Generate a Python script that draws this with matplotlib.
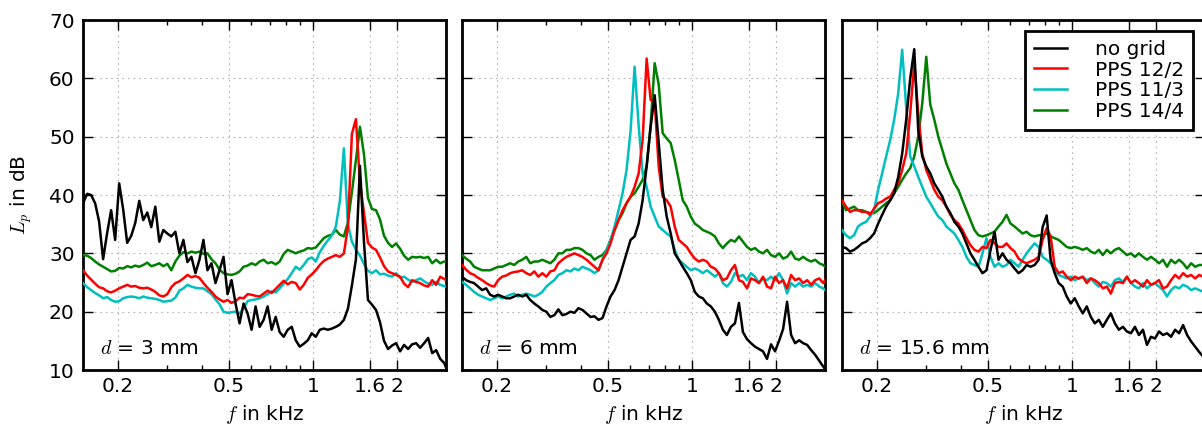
import matplotlib
matplotlib.use('Agg')
import matplotlib.pyplot as plt
from matplotlib.ticker import FixedLocator, FixedFormatter, NullFormatter

# frequency bins (kHz), shared by all spectra
freq_khz = [0.1500, 0.1551, 0.1603, 0.1657, 0.1712, 0.1770, 0.1830, 0.1891, 0.1955, 0.2021,
            0.2089, 0.2159, 0.2232, 0.2307, 0.2385, 0.2465, 0.2548, 0.2634, 0.2723, 0.2814,
            0.2909, 0.3007, 0.3108, 0.3213, 0.3321, 0.3433, 0.3549, 0.3668, 0.3792, 0.3919,
            0.4051, 0.4188, 0.4329, 0.4474, 0.4625, 0.4781, 0.4942, 0.5108, 0.5280, 0.5458,
            0.5641, 0.5831, 0.6027, 0.6230, 0.6440, 0.6657, 0.6881, 0.7113, 0.7352, 0.7600,
            0.7856, 0.8120, 0.8394, 0.8676, 0.8968, 0.9270, 0.9583, 0.9905, 1.0239, 1.0584,
            1.0940, 1.1308, 1.1689, 1.2083, 1.2490, 1.2910, 1.3345, 1.3794, 1.4259, 1.4739,
            1.5235, 1.5748, 1.6278, 1.6826, 1.7393, 1.7979, 1.8584, 1.9210, 1.9857, 2.0526,
            2.1217, 2.1931, 2.2670, 2.3433, 2.4222, 2.5038, 2.5881, 2.6753, 2.7654, 2.8585,
            2.9548, 3.0000]

# d = 3 mm
lp_3mm_nogrid = [38.6, 40.2, 40.0, 38.6, 35.5, 29.0, 33.5, 37.4, 32.3, 42.0,
                 37.5, 31.8, 33.0, 35.2, 39.0, 35.7, 37.0, 34.5, 38.0, 32.0,
                 34.0, 33.4, 32.9, 33.7, 30.0, 32.3, 28.5, 29.4, 26.6, 28.9,
                 32.3, 27.1, 28.3, 24.9, 27.1, 29.4, 23.0, 25.4, 21.4, 18.0,
                 21.4, 19.7, 16.9, 20.9, 17.4, 18.6, 20.9, 16.9, 19.1, 16.5,
                 15.7, 16.9, 17.4, 15.1, 14.0, 14.5, 15.1, 16.3, 15.7, 16.9,
                 17.1, 16.9, 17.1, 17.4, 17.8, 18.6, 20.5, 24.5, 29.0, 45.0,
                 32.0, 22.0, 21.2, 20.3, 18.2, 15.0, 13.6, 14.2, 14.6, 13.2,
                 14.3, 13.6, 14.4, 14.6, 13.8, 14.6, 15.5, 12.9, 13.4, 11.9,
                 11.2, 10.4]
lp_3mm_pps12 = [27.1, 26.2, 25.5, 24.8, 24.2, 24.0, 23.5, 23.3, 23.6, 24.0,
                24.3, 24.6, 24.3, 24.4, 24.1, 24.0, 24.1, 23.8, 23.4, 22.8,
                22.6, 23.0, 24.2, 24.9, 25.2, 25.7, 26.3, 25.9, 26.1, 25.8,
                24.9, 24.1, 23.4, 22.6, 22.1, 21.7, 22.0, 21.5, 21.8, 22.4,
                22.3, 23.0, 22.9, 22.7, 22.6, 23.1, 23.6, 23.2, 23.9, 24.6,
                25.3, 24.7, 25.1, 24.9, 23.8, 24.6, 25.8, 26.4, 27.1, 28.0,
                28.7, 29.1, 29.4, 29.7, 29.4, 30.0, 34.5, 50.5, 53.0, 42.2,
                37.0, 31.8, 31.0, 30.6, 29.3, 27.8, 26.9, 26.6, 26.3, 26.0,
                24.8, 24.2, 25.4, 25.1, 24.9, 24.5, 24.3, 25.4, 24.6, 26.0,
                25.6, 25.4]
lp_3mm_pps11 = [24.9, 24.2, 23.7, 23.2, 22.8, 22.3, 22.5, 22.0, 21.7, 21.8,
                22.3, 22.5, 22.6, 22.5, 22.3, 22.6, 22.4, 22.3, 22.2, 22.0,
                21.7, 21.8, 21.9, 22.4, 23.6, 24.0, 24.6, 24.3, 24.1, 24.0,
                24.0, 23.5, 23.0, 22.1, 21.3, 20.0, 19.8, 19.9, 20.0, 19.7,
                20.6, 21.8, 22.0, 22.1, 22.3, 22.6, 23.0, 23.5, 23.3, 24.0,
                24.8, 25.6, 26.6, 27.7, 27.2, 28.0, 29.0, 29.3, 28.6, 30.2,
                31.3, 32.2, 33.1, 34.6, 39.0, 48.0, 35.0, 32.0, 30.6, 29.6,
                28.2, 27.0, 26.6, 27.1, 26.4, 26.5, 26.2, 26.0, 26.6, 25.8,
                26.0, 25.5, 25.1, 25.4, 25.7, 25.2, 24.8, 24.6, 25.1, 24.6,
                24.4, 24.3]
lp_3mm_pps14 = [29.7, 29.6, 29.2, 28.6, 28.1, 27.7, 27.3, 26.9, 27.0, 27.5,
                27.4, 27.8, 27.6, 27.9, 27.7, 28.0, 28.4, 27.8, 28.0, 28.3,
                27.8, 28.2, 27.1, 28.6, 29.6, 30.2, 30.0, 30.3, 30.1, 30.3,
                29.9, 30.0, 29.0, 28.3, 27.2, 26.6, 26.4, 26.3, 26.5, 26.9,
                27.7, 27.9, 28.3, 28.0, 28.6, 28.9, 28.3, 28.5, 28.1, 28.6,
                29.9, 30.6, 30.3, 30.0, 30.3, 30.5, 30.9, 30.8, 31.0, 31.8,
                32.6, 33.0, 33.2, 34.0, 33.2, 32.9, 35.3, 40.5, 46.0, 51.7,
                47.0, 39.5, 37.6, 37.4, 35.8, 33.0, 31.8, 31.1, 31.7, 30.8,
                29.6, 28.9, 29.4, 29.3, 29.4, 29.2, 29.4, 28.3, 28.9, 28.3,
                28.6, 28.6]

# d = 6 mm
lp_6mm_nogrid = [26.0, 25.4, 25.1, 24.9, 24.3, 23.7, 24.0, 22.9, 22.6, 22.9,
                 22.6, 22.3, 22.3, 22.6, 22.9, 22.6, 22.9, 22.0, 21.4, 20.9,
                 20.3, 20.0, 19.1, 19.4, 20.4, 19.4, 19.6, 20.0, 19.8, 20.6,
                 20.3, 19.7, 19.1, 19.2, 18.6, 18.9, 20.9, 22.6, 23.7, 25.4,
                 27.7, 30.0, 32.3, 32.9, 35.1, 39.1, 44.9, 51.7, 57.1, 49.0,
                 40.9, 36.3, 33.4, 30.0, 28.9, 27.7, 26.6, 25.4, 23.4, 22.6,
                 22.3, 21.4, 20.9, 20.0, 18.6, 16.9, 16.0, 17.4, 18.0, 21.5,
                 16.5, 15.3, 14.6, 14.0, 13.6, 13.2, 11.9, 14.4, 13.2, 15.0,
                 17.0, 21.7, 16.0, 14.6, 15.1, 14.6, 14.3, 13.4, 12.6, 11.6,
                 10.6, 10.1]
lp_6mm_pps12 = [28.0, 27.2, 26.6, 26.3, 25.8, 25.4, 24.9, 24.5, 24.3, 25.4,
                26.0, 26.2, 26.6, 26.8, 26.9, 27.1, 26.6, 26.3, 26.9, 26.0,
                26.6, 26.0, 26.9, 27.1, 28.3, 28.9, 29.4, 29.7, 30.0, 29.7,
                29.4, 28.9, 28.3, 27.7, 27.1, 28.9, 30.0, 31.7, 34.0, 35.7,
                37.4, 38.6, 39.7, 41.4, 43.7, 49.4, 63.4, 56.3, 56.0, 44.9,
                39.7, 39.1, 38.0, 34.6, 32.3, 31.7, 31.1, 30.0, 29.1, 28.6,
                28.9, 28.6, 27.7, 27.4, 26.6, 25.4, 25.7, 27.1, 28.0, 25.4,
                25.1, 24.0, 25.7, 25.4, 24.9, 26.0, 24.3, 24.0, 26.0, 24.9,
                25.4, 24.0, 26.3, 25.4, 25.7, 24.9, 25.4, 24.6, 25.4, 25.7,
                24.9, 25.4]
lp_6mm_pps11 = [25.1, 24.6, 24.0, 23.4, 22.9, 22.6, 22.3, 22.0, 22.3, 22.6,
                22.3, 22.6, 22.9, 23.1, 22.6, 22.9, 23.1, 22.9, 22.6, 22.9,
                23.4, 24.3, 24.9, 25.4, 26.3, 26.6, 27.1, 26.9, 27.4, 27.1,
                27.7, 27.4, 27.1, 26.6, 27.1, 28.9, 30.6, 32.3, 34.6, 37.4,
                40.3, 44.3, 51.0, 62.0, 52.0, 43.7, 41.4, 38.0, 36.3, 34.6,
                34.0, 33.4, 32.9, 30.6, 28.9, 28.3, 27.7, 27.1, 27.4, 27.1,
                26.6, 27.1, 26.6, 26.0, 26.6, 24.9, 24.3, 25.1, 26.6, 26.0,
                26.3, 25.4, 26.6, 26.0, 24.9, 25.7, 25.4, 26.0, 25.4, 26.6,
                25.4, 23.1, 24.9, 24.3, 24.9, 24.3, 24.6, 24.3, 24.9, 24.3,
                24.0, 23.7]
lp_6mm_pps14 = [29.7, 29.1, 28.6, 27.7, 27.4, 27.1, 27.1, 27.1, 27.4, 27.7,
                27.7, 28.0, 28.3, 28.0, 28.6, 28.9, 29.4, 28.3, 28.6, 28.6,
                28.9, 28.6, 28.3, 28.9, 30.0, 30.0, 30.6, 30.6, 30.9, 30.9,
                30.6, 30.0, 29.7, 28.9, 29.4, 29.7, 30.6, 32.3, 34.0, 35.7,
                36.9, 38.6, 39.7, 40.3, 41.4, 42.6, 44.9, 52.0, 62.6, 59.0,
                50.6, 49.7, 48.9, 46.0, 42.6, 39.1, 38.0, 36.3, 35.1, 34.6,
                34.0, 33.7, 33.4, 32.9, 31.7, 30.9, 31.7, 32.3, 32.0, 32.9,
                32.0, 31.1, 30.6, 30.9, 30.3, 30.0, 30.6, 29.7, 29.4, 30.0,
                29.1, 29.4, 30.3, 29.1, 28.9, 29.4, 28.9, 28.6, 28.9, 28.3,
                28.0, 27.7]

# d = 15.6 mm
lp_15mm_nogrid = [31.1, 30.9, 30.3, 30.6, 31.1, 31.7, 32.0, 32.6, 33.4, 35.1,
                  36.6, 38.0, 39.1, 40.3, 43.1, 47.1, 52.9, 60.0, 65.0, 51.1,
                  46.6, 44.9, 43.7, 42.0, 40.9, 39.7, 38.0, 36.9, 35.4, 34.6,
                  33.4, 31.7, 30.0, 28.9, 27.7, 26.6, 27.1, 30.5, 33.7, 28.9,
                  30.0, 28.9, 28.3, 27.4, 26.6, 27.1, 28.0, 27.7, 28.0, 28.9,
                  34.5, 36.5, 28.9, 26.6, 24.9, 24.3, 22.6, 21.4, 22.3, 20.9,
                  19.7, 20.9, 19.1, 18.0, 18.6, 17.4, 18.6, 19.7, 18.0, 16.9,
                  17.4, 16.6, 16.3, 17.4, 16.0, 16.9, 14.3, 15.7, 15.4, 16.6,
                  16.0, 16.3, 15.7, 16.9, 16.3, 17.7, 16.0, 14.9, 14.0, 13.1,
                  12.3, 11.8]
lp_15mm_pps12 = [39.1, 38.0, 37.1, 37.4, 37.4, 37.1, 37.1, 36.6, 37.7, 38.6,
                 38.9, 39.4, 39.7, 40.9, 42.0, 44.3, 47.1, 54.0, 62.6, 54.0,
                 47.1, 44.3, 42.6, 40.9, 39.7, 39.1, 38.0, 36.6, 35.7, 35.1,
                 34.0, 32.6, 31.4, 30.6, 30.3, 31.1, 30.9, 32.3, 31.7, 31.1,
                 31.1, 31.7, 30.9, 30.3, 29.1, 28.6, 28.3, 28.6, 28.9, 29.4,
                 32.3, 34.3, 32.9, 27.7, 26.6, 26.9, 26.0, 25.4, 26.0, 25.7,
                 26.0, 24.9, 25.7, 25.4, 24.9, 24.0, 24.3, 23.1, 24.9, 25.1,
                 24.9, 26.0, 24.9, 25.4, 24.9, 24.3, 25.4, 24.6, 24.9, 25.4,
                 24.0, 24.3, 25.4, 26.3, 25.7, 26.6, 26.0, 26.3, 25.7, 26.3,
                 26.0, 26.0]
lp_15mm_pps11 = [34.0, 33.1, 32.6, 33.1, 34.6, 35.1, 35.4, 36.3, 37.4, 40.9,
                 43.7, 46.6, 49.4, 52.9, 57.4, 64.9, 55.0, 46.6, 44.9, 43.1,
                 41.4, 39.7, 38.6, 37.4, 36.3, 35.7, 34.6, 34.0, 33.4, 32.3,
                 31.1, 29.4, 28.3, 28.0, 27.7, 30.0, 32.6, 29.4, 27.7, 28.3,
                 27.7, 28.0, 28.9, 28.3, 27.7, 28.9, 30.0, 30.9, 31.7, 31.1,
                 29.4, 28.9, 28.3, 27.1, 26.3, 26.0, 25.7, 26.0, 25.4, 25.7,
                 26.0, 25.4, 25.7, 24.9, 24.3, 25.1, 24.9, 24.3, 25.4, 25.7,
                 25.1, 26.0, 24.9, 24.3, 24.0, 24.9, 24.0, 24.6, 24.9, 24.3,
                 23.7, 22.6, 23.7, 24.3, 24.0, 24.6, 24.3, 23.7, 24.0, 23.7,
                 23.4, 23.4]
lp_15mm_pps14 = [38.9, 37.4, 37.7, 38.0, 37.4, 37.4, 37.1, 36.9, 36.9, 37.4,
                 38.0, 38.6, 39.1, 40.3, 41.4, 42.6, 43.7, 44.6, 46.6, 50.0,
                 55.7, 63.7, 55.5, 52.9, 50.0, 47.7, 45.4, 43.7, 42.0, 40.9,
                 39.1, 37.4, 35.7, 34.0, 33.1, 32.9, 33.1, 33.4, 33.7, 34.6,
                 35.4, 36.6, 35.1, 34.6, 34.0, 33.4, 33.7, 33.1, 32.9, 33.1,
                 33.1, 33.4, 32.9, 32.6, 32.3, 31.7, 31.1, 30.9, 31.1, 30.9,
                 30.6, 30.9, 30.3, 30.0, 30.6, 29.7, 30.6, 30.0, 30.6, 30.9,
                 30.3, 29.7, 30.0, 29.4, 30.0, 29.4, 28.9, 29.4, 28.9, 28.3,
                 28.9, 27.7, 28.9, 28.3, 28.9, 28.3, 27.4, 28.3, 27.7, 28.0,
                 28.0, 28.0]

series_labels = ['no grid', 'PPS 12/2', 'PPS 11/3', 'PPS 14/4']
series_colors = ['k', 'r', 'c', 'g']
distances = ['3', '6', '15.6']
panels = [
    [lp_3mm_nogrid, lp_3mm_pps12, lp_3mm_pps11, lp_3mm_pps14],
    [lp_6mm_nogrid, lp_6mm_pps12, lp_6mm_pps11, lp_6mm_pps14],
    [lp_15mm_nogrid, lp_15mm_pps12, lp_15mm_pps11, lp_15mm_pps14],
]
xticks = [0.2, 0.5, 1, 1.6, 2]
xtick_labels = ['0.2', '0.5', '1', '1.6', '2']
xminor = [0.3, 0.4, 0.6, 0.7, 0.8, 0.9]

plt.rcParams['font.family'] = ['DejaVu Sans']
plt.rcParams['mathtext.fontset'] = 'cm'
plt.rcParams['font.size'] = 14.5

fig = plt.figure(figsize=(12.02, 4.25), dpi=100)
lefts = [0.0691, 0.3844, 0.7005]

for i, (left, curves, d) in enumerate(zip(lefts, panels, distances)):
    ax = fig.add_axes([left, 0.1294, 0.302, 0.8235])
    # draw black on top
    for j in [3, 2, 1, 0]:
        ax.plot(freq_khz, curves[j], color=series_colors[j], lw=1.8,
                label=series_labels[j], zorder=3 + (3 - j))
    ax.set_xscale('log')
    ax.set_xlim(0.15, 3.0)
    ax.set_ylim(10, 70)
    ax.xaxis.set_major_locator(FixedLocator(xticks))
    ax.xaxis.set_major_formatter(FixedFormatter(xtick_labels))
    ax.xaxis.set_minor_locator(FixedLocator(xminor))
    ax.xaxis.set_minor_formatter(NullFormatter())
    ax.set_yticks(range(10, 71, 10))
    ax.tick_params(which='both', direction='in', top=True, right=True, width=1,
                   labelsize=14.5)
    ax.tick_params(which='major', length=7)
    ax.tick_params(which='minor', length=3.5)
    ax.tick_params(axis='x', pad=5)
    ax.tick_params(axis='y', pad=6)
    if i > 0:
        ax.set_yticklabels([])
    ax.grid(True, which='major', linestyle=(0, (1.5, 3.5)), color='0.7', lw=0.8)
    for s in ax.spines.values():
        s.set_linewidth(2)
    ax.set_xlabel(r'$f$ in kHz', fontsize=14.5)
    ax.xaxis.set_label_coords(0.5, -0.095)
    if i == 0:
        ax.set_ylabel(r'$L_p$ in dB', fontsize=14.5)
        ax.yaxis.set_label_coords(-0.135, 0.5)
    ax.text(0.047, 0.045, r'$d$ = %s mm' % d, transform=ax.transAxes,
            ha='left', va='baseline', fontsize=14.5)
    if i == 2:
        handles, labels = ax.get_legend_handles_labels()
        order = [3, 2, 1, 0]
        leg = ax.legend([handles[k] for k in order], [labels[k] for k in order],
                        loc='upper right', bbox_to_anchor=(0.967, 0.969),
                        borderaxespad=0, fancybox=False, framealpha=1,
                        edgecolor='k', fontsize=14.5, handlelength=1.6,
                        handletextpad=1.4, labelspacing=0.08, borderpad=0.45)
        leg.get_frame().set_linewidth(2)

fig.savefig('out.png', dpi=100)
